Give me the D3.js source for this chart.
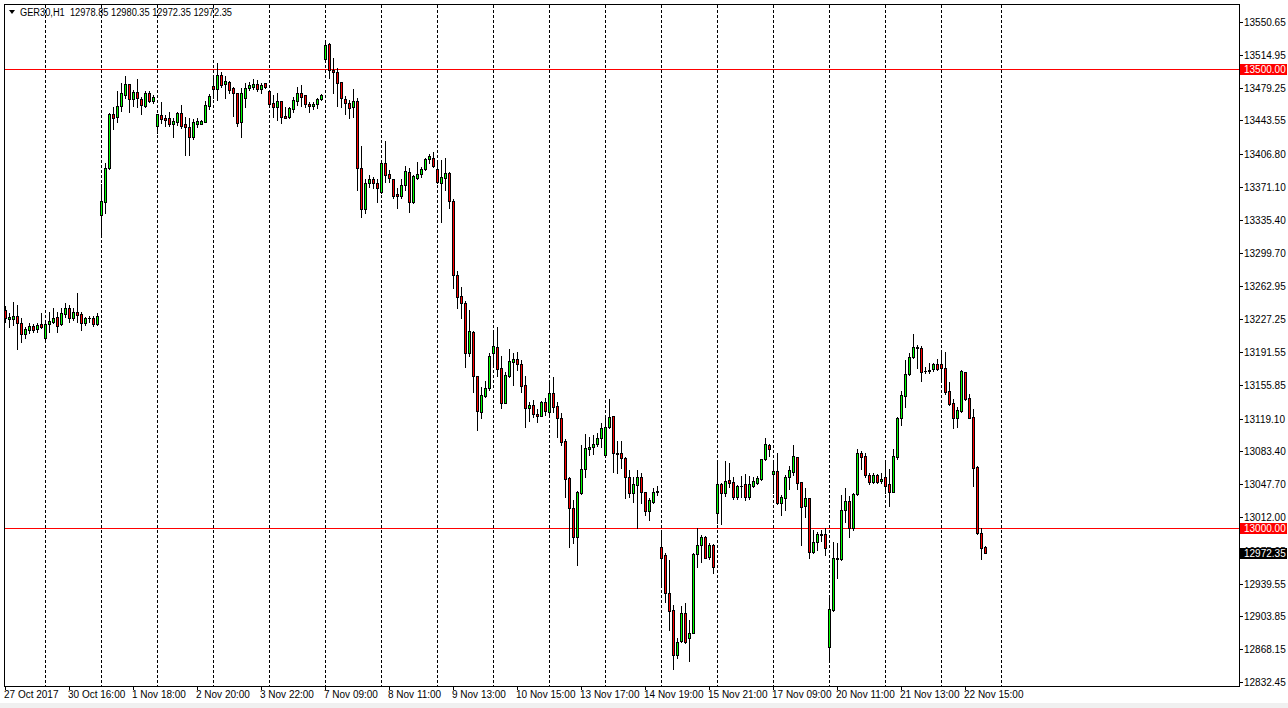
<!DOCTYPE html>
<html>
<head>
<meta charset="utf-8">
<script src="https://cdn.jsdelivr.net/npm/d3@7"></script>
<style>
  html, body { margin: 0; padding: 0; background: #f0f0f0; }
  svg { display: block; }
  text { font-family: "Liberation Sans", Arial, sans-serif; font-size: 10px; }
</style>
</head>
<body>
<script>
// ---------------- DATA ----------------
const symbol = "GER30,H1";
const lastQuote = ["12978.85", "12980.35", "12972.35", "12972.35"];

const openP = [
13237.2,13227.8,13227.8,13230.7,13222.8,13210.8,13215.5,13219.8,13216.2,13222.0,13206.4,13221.7,13224.5,13229.3,13221.7,13232.9,13239.1,13228.9,13234.7,13232.9,13223.4,13228.2,13228.2,13221.7,
13340.6,13355.0,13391.5,13450.5,13446.9,13459.6,13471.2,13482.8,13466.5,13474.1,13466.8,13459.6,13473.1,13465.0,13437.3,13449.4,13445.8,13445.8,13439.6,13441.5,13451.3,13439.3,13436.0,13425.8,13439.6,13439.6,13442.1,13459.6,13481.0,13477.7,
13493.0,13482.8,13485.0,13479.2,13473.1,13442.1,13467.6,13478.5,13480.3,13482.8,13477.4,13484.0,13475.5,13462.2,13458.5,13464.7,13448.4,13447.6,13456.0,13464.7,13473.1,13471.2,13461.4,13459.6,13461.1,13466.8,
13510.4,13526.4,13498.4,13495.9,13485.0,13466.8,13462.2,13458.5,13464.7,13392.1,13347.1,13375.1,13379.4,13375.1,13365.2,13396.8,13384.9,13379.4,13363.5,13360.9,13372.9,13387.1,13354.4,13381.2,13384.9,13390.3,13401.2,13402.9,13390.3,13375.1,13380.5,13386.6,13355.8,
13275.3,13252.5,13244.5,13190.1,13213.6,13165.4,13125.9,13144.0,13152.0,13190.8,13196.6,13173.8,13136.4,13165.7,13181.0,13183.6,13178.1,13155.6,13130.3,13133.9,13123.7,13122.2,13136.8,13125.9,13146.6,13132.8,13119.4,
13095.0,13054.1,13021.4,12989.9,13038.4,13063.9,13086.3,13087.8,13091.1,13097.6,13079.1,13110.2,13121.9,13081.9,13081.9,13076.5,13055.8,13038.4,13046.8,13055.2,13038.8,13018.8,13028.6,13038.8,
12979.6,12970.6,12929.6,12910.8,12861.8,12877.4,12907.9,12880.0,12886.1,12971.4,12981.5,12990.5,12968.1,12981.5,
13016.6,13047.6,13038.4,13052.2,13049.7,13033.3,13046.0,13047.9,13033.3,13046.0,13049.3,13053.0,13074.8,13090.3,
13058.4,13062.0,13026.9,13032.3,13055.2,13061.3,13076.9,13050.4,13023.9,13032.3,12974.2,12985.1,12992.9,12993.5,
12870.8,12910.8,12965.9,12965.9,13019.6,13029.7,12999.7,13037.0,13081.3,13078.3,13057.7,13050.4,13057.7,13051.5,
13055.2,13047.9,13039.5,13077.6,13119.4,13144.0,13167.6,13185.8,13195.6,13195.6,13171.2,13170.8,13172.7,13178.5,
13178.5,13173.8,13149.4,13135.7,13120.0,13127.6,13169.4,13141.1,13120.5,13066.7,12994.2,12978.85
];

const highP = [
13241.6,13234.0,13246.3,13242.7,13228.5,13219.1,13223.4,13221.7,13223.4,13233.6,13223.1,13235.4,13239.1,13235.4,13239.1,13244.5,13242.7,13239.1,13255.4,13235.4,13230.0,13230.7,13230.2,13233.6,
13374.0,13396.9,13451.6,13458.5,13475.5,13484.0,13491.9,13483.7,13476.6,13488.3,13469.3,13475.5,13475.5,13471.2,13451.0,13463.3,13449.4,13452.3,13445.8,13453.0,13460.3,13447.6,13446.2,13444.8,13445.8,13444.0,13464.7,13471.9,13491.9,13505.7,
13496.6,13492.2,13486.4,13480.3,13473.4,13478.5,13484.0,13485.7,13488.6,13487.5,13484.0,13484.7,13476.0,13471.2,13473.1,13465.0,13458.5,13458.5,13469.3,13480.3,13482.1,13471.5,13463.9,13463.9,13468.3,13471.9,
13529.9,13527.5,13511.1,13500.2,13485.7,13470.1,13465.7,13477.7,13468.3,13415.7,13379.8,13384.1,13382.3,13379.8,13398.5,13421.1,13389.6,13379.8,13370.0,13379.8,13393.6,13392.1,13384.1,13398.5,13393.2,13402.9,13406.6,13409.4,13400.5,13400.5,13402.3,13387.0,13358.0,
13279.7,13262.6,13247.0,13237.2,13214.4,13165.5,13153.8,13160.0,13190.8,13211.9,13219.1,13187.2,13170.1,13194.5,13190.1,13191.2,13182.8,13165.4,13136.8,13139.3,13129.5,13138.2,13141.8,13158.6,13164.0,13137.4,13124.8,
13096.5,13055.8,13030.5,13040.3,13090.3,13102.3,13098.7,13101.2,13103.1,13113.9,13120.5,13140.1,13122.0,13094.3,13095.1,13077.6,13063.1,13055.8,13063.1,13059.5,13039.5,13032.3,13043.2,13045.7,
12996.0,12973.1,12965.2,12916.2,12880.0,12915.1,12918.7,12899.9,12972.5,12999.7,12992.4,12991.3,12983.3,12982.6,
13074.0,13048.6,13072.9,13071.1,13055.2,13046.8,13056.6,13058.8,13056.6,13055.8,13056.6,13075.1,13097.6,13091.4,
13072.1,13081.3,13035.9,13057.7,13067.5,13090.3,13077.0,13050.5,13043.2,13032.4,12997.8,12996.0,12997.8,12999.7,
12923.5,12985.1,12984.0,13035.9,13043.2,13034.8,13038.4,13085.6,13084.1,13081.9,13060.2,13059.5,13058.4,13060.2,
13074.0,13063.9,13085.6,13121.1,13149.4,13182.8,13190.8,13211.1,13199.1,13198.1,13174.9,13179.9,13179.9,13183.6,
13193.7,13191.9,13159.2,13140.1,13131.3,13171.9,13170.1,13145.8,13129.2,13067.5,12999.7,12980.35
];

const lowP = [
13224.2,13219.1,13220.9,13194.5,13202.7,13206.4,13212.5,13213.6,13213.6,13217.3,13204.6,13213.6,13222.8,13213.6,13220.9,13230.0,13224.5,13226.3,13224.5,13215.5,13220.9,13224.5,13219.8,13220.9,
13317.8,13342.4,13390.7,13434.2,13441.5,13453.8,13467.6,13453.0,13459.6,13458.5,13450.5,13458.5,13463.9,13462.8,13430.2,13440.4,13437.4,13437.4,13425.5,13438.5,13435.6,13405.8,13405.8,13423.3,13436.7,13439.3,13441.5,13455.9,13467.6,13465.7,
13480.3,13468.3,13473.1,13448.4,13437.8,13425.8,13458.5,13476.6,13477.7,13475.5,13473.1,13479.2,13460.3,13447.2,13444.0,13440.4,13445.8,13445.8,13453.0,13460.3,13459.6,13458.5,13453.0,13455.9,13457.4,13465.7,
13507.4,13489.4,13473.1,13459.6,13458.5,13450.2,13445.8,13447.6,13367.8,13338.8,13342.5,13371.6,13369.7,13354.4,13364.1,13376.8,13376.8,13358.8,13347.9,13358.8,13367.8,13344.2,13353.3,13379.8,13382.3,13389.6,13396.8,13393.1,13375.1,13333.4,13367.8,13347.9,13260.8,
13239.7,13228.8,13175.5,13187.5,13148.3,13106.6,13120.0,13142.2,13150.2,13175.5,13165.7,13130.9,13135.7,13164.6,13155.6,13171.9,13148.3,13110.2,13116.4,13121.1,13115.0,13121.9,13123.0,13123.0,13126.6,13099.4,13090.0,
13034.1,12979.0,12984.0,12959.7,13037.0,13055.8,13079.4,13080.5,13089.2,13088.5,13077.7,13108.5,13061.4,13060.3,13065.1,13032.3,13033.3,13028.6,12999.7,13026.9,13014.1,13008.7,13027.5,13035.9,
12938.0,12919.8,12889.0,12846.3,12858.2,12876.3,12874.6,12855.6,12885.4,12957.9,12963.3,12967.0,12965.9,12951.4,
13005.1,13004.4,13034.8,13044.9,13031.2,13031.2,13034.1,13030.5,13031.2,13044.9,13047.9,13052.2,13074.0,13078.3,
13038.4,13026.1,13014.1,13019.6,13042.1,13057.7,13042.1,12981.5,13012.3,12967.0,12972.5,12976.1,12986.2,12970.6,
12855.8,12909.7,12945.3,12965.2,13006.9,12990.5,12997.8,13035.9,13063.9,13055.8,13047.9,13049.0,13048.6,13048.6,
13038.4,13023.9,13038.8,13074.8,13112.1,13131.3,13166.5,13184.7,13173.8,13160.3,13169.0,13169.0,13171.2,13171.9,
13161.8,13145.8,13133.9,13109.3,13110.2,13126.6,13139.3,13119.4,13045.7,12993.5,12965.9,12972.35
];

const closeP = [
13228.2,13230.0,13230.7,13222.8,13210.8,13216.2,13219.8,13215.5,13220.9,13218.4,13221.7,13225.3,13228.2,13220.1,13233.6,13239.1,13228.9,13234.7,13232.1,13223.4,13228.2,13228.3,13221.7,13230.7,
13355.8,13391.5,13450.5,13445.8,13459.6,13473.1,13482.8,13466.5,13474.1,13467.6,13460.3,13473.1,13465.0,13468.7,13450.5,13444.8,13444.0,13439.3,13442.9,13451.3,13437.4,13436.0,13425.8,13442.1,13442.9,13442.9,13460.3,13470.1,13477.4,13493.0,
13482.1,13486.4,13476.6,13473.1,13440.7,13473.1,13478.5,13482.1,13482.8,13477.4,13482.1,13480.3,13461.4,13458.5,13464.7,13447.6,13446.6,13456.8,13465.7,13473.1,13469.3,13461.1,13459.6,13461.4,13466.8,13471.2,
13525.6,13498.4,13495.9,13484.6,13467.6,13462.2,13456.8,13464.7,13392.1,13347.1,13375.1,13379.4,13375.1,13370.3,13396.8,13384.1,13380.5,13361.6,13360.9,13373.6,13388.9,13354.4,13383.0,13384.9,13390.3,13401.5,13404.8,13394.2,13376.2,13382.3,13386.6,13355.8,13275.3,
13251.7,13244.5,13190.1,13214.4,13165.7,13127.3,13144.7,13152.0,13187.2,13198.1,13172.7,13136.4,13166.5,13181.7,13183.9,13178.1,13154.8,13130.3,13133.9,13123.7,13122.2,13136.8,13127.3,13146.6,13132.0,13119.4,13093.9,
13053.0,13021.4,12989.9,13038.8,13063.9,13086.7,13087.8,13091.1,13098.3,13108.5,13110.2,13120.5,13081.3,13080.5,13075.8,13055.8,13038.4,13047.6,13055.2,13038.8,13018.8,13030.5,13038.8,13040.3,
12967.0,12928.9,12910.0,12861.8,12876.3,12907.9,12876.3,12886.1,12971.4,12981.5,12990.5,12967.7,12981.5,12957.9,
13047.6,13038.4,13051.5,13049.3,13033.3,13045.7,13046.2,13033.3,13047.9,13051.1,13054.1,13074.8,13091.4,13085.6,
13062.0,13026.9,13033.4,13055.2,13063.1,13078.3,13049.3,13023.2,13032.3,12973.6,12985.1,12993.5,12993.3,12977.9,
12911.5,12967.7,12967.7,13019.6,13029.7,12999.7,13037.0,13081.3,13077.6,13057.7,13049.7,13057.7,13050.4,13053.0,
13046.0,13039.5,13078.3,13119.4,13144.7,13167.6,13185.8,13196.6,13196.6,13170.1,13171.4,13171.9,13178.5,13173.0,
13173.8,13148.3,13134.9,13120.0,13128.4,13170.8,13140.4,13120.0,13065.6,12994.2,12978.6,12972.35
];

const priceTicks = ["13550.65","13514.95","13479.25","13443.55","13406.80","13371.10","13335.40","13299.70","13262.95","13227.25","13191.55","13155.85","13119.10","13083.40","13047.70","13012.00","12975.25","12939.55","12903.85","12868.15","12832.45"];

const timeLabels = ["27 Oct 2017","30 Oct 16:00","1 Nov 18:00","2 Nov 20:00","3 Nov 22:00","7 Nov 09:00","8 Nov 11:00","9 Nov 13:00","10 Nov 15:00","13 Nov 17:00","14 Nov 19:00","15 Nov 21:00","17 Nov 09:00","20 Nov 11:00","21 Nov 13:00","22 Nov 15:00"];
const timeLabelBars = [0,16,32,48,64,80,96,112,128,144,160,176,192,208,224,240];

const gridBars = [10,24,38,52,66,80,94,108,122,136,150,164,178,192,206,220,234,249];

const levelLines = [13500.00, 13000.00];
const bidPrice = 12972.35;

// ---------------- LAYOUT ----------------
const W = 1288, H = 708;
const frame = { left: 4, top: 4, right: 1239, bottom: 686 };
const bullColor = "#00ff00", bearColor = "#ff0000";

const svg = d3.select("body").append("svg")
  .attr("width", W).attr("height", H);

svg.append("rect").attr("x", 0).attr("y", 0).attr("width", W).attr("height", H).attr("fill", "#ffffff");
svg.append("rect").attr("x", 0).attr("y", 703).attr("width", W).attr("height", 5).attr("fill", "#f0f0f0");

const n = openP.length;
const x = d3.scaleLinear().domain([0, n - 1]).range([5, 5 + 4 * (n - 1)]);
const y = d3.scaleLinear().domain([12832.45, 13550.65]).range([682, 22]);

const g = svg.append("g").attr("shape-rendering", "crispEdges");

// frame
g.append("rect")
  .attr("x", frame.left + 0.5).attr("y", frame.top + 0.5)
  .attr("width", frame.right - frame.left).attr("height", frame.bottom - frame.top)
  .attr("fill", "none").attr("stroke", "#000");

// vertical dotted grid
g.selectAll("line.grid").data(gridBars).join("line")
  .attr("class", "grid")
  .attr("x1", d => Math.round(x(d)) + 0.5).attr("x2", d => Math.round(x(d)) + 0.5)
  .attr("y1", frame.top + 1).attr("y2", frame.bottom)
  .attr("stroke", "#000").attr("stroke-dasharray", "3,2");

// level lines
g.selectAll("line.level").data(levelLines).join("line")
  .attr("class", "level")
  .attr("x1", frame.left + 1).attr("x2", frame.right)
  .attr("y1", d => Math.round(y(d)) + 0.5).attr("y2", d => Math.round(y(d)) + 0.5)
  .attr("stroke", "#ff0000");

// candles
const idx = d3.range(n);
const cg = g.append("g");
idx.forEach(i => {
  const cx = Math.round(x(i));
  const o = openP[i], c = closeP[i], h = highP[i], l = lowP[i];
  const yh = Math.round(y(h)), yl = Math.round(y(l));
  cg.append("line")
    .attr("x1", cx + 0.5).attr("x2", cx + 0.5)
    .attr("y1", yh).attr("y2", yl + 1)
    .attr("stroke", "#000");
  const top = Math.round(y(Math.max(o, c))), bot = Math.round(y(Math.min(o, c)));
  if (bot - top < 1) {
    cg.append("line")
      .attr("x1", cx - 1).attr("x2", cx + 2)
      .attr("y1", top + 0.5).attr("y2", top + 0.5)
      .attr("stroke", "#000");
  } else {
    cg.append("rect")
      .attr("x", cx - 0.5).attr("y", top + 0.5)
      .attr("width", 2).attr("height", bot - top)
      .attr("fill", c >= o ? bullColor : bearColor)
      .attr("stroke", "#000");
  }
});

// price axis
const ax = svg.append("g");
ax.selectAll("line.pt").data(priceTicks).join("line")
  .attr("class", "pt").attr("shape-rendering", "crispEdges")
  .attr("x1", frame.right + 1).attr("x2", frame.right + 4)
  .attr("y1", d => Math.round(y(+d)) + 0.5).attr("y2", d => Math.round(y(+d)) + 0.5)
  .attr("stroke", "#000");
ax.selectAll("text.pt").data(priceTicks).join("text")
  .attr("class", "pt")
  .attr("x", frame.right + 5).attr("y", d => Math.round(y(+d)) + 4)
  .attr("fill", "#000").text(d => d);

// level labels
levelLines.forEach(v => {
  const yy = Math.round(y(v));
  ax.append("rect").attr("x", frame.right + 1).attr("y", yy - 5).attr("width", 47).attr("height", 11)
    .attr("fill", "#ff0000").attr("shape-rendering", "crispEdges");
  ax.append("text").attr("x", frame.right + 5).attr("y", yy + 4).attr("fill", "#fff").text(v.toFixed(2));
});
{
  const yy = Math.round(y(bidPrice));
  ax.append("rect").attr("x", frame.right + 1).attr("y", yy - 5).attr("width", 47).attr("height", 11)
    .attr("fill", "#000").attr("shape-rendering", "crispEdges");
  ax.append("text").attr("x", frame.right + 5).attr("y", yy + 4).attr("fill", "#fff").text(bidPrice.toFixed(2));
}

// time axis
const tx = svg.append("g");
tx.selectAll("line.tt").data(timeLabelBars).join("line")
  .attr("class", "tt").attr("shape-rendering", "crispEdges")
  .attr("x1", d => Math.round(x(d)) + 0.5).attr("x2", d => Math.round(x(d)) + 0.5)
  .attr("y1", frame.bottom + 1).attr("y2", frame.bottom + 4)
  .attr("stroke", "#000");
tx.selectAll("text.tt").data(timeLabels).join("text")
  .attr("class", "tt")
  .attr("x", (d, i) => Math.round(x(timeLabelBars[i])) - 1)
  .attr("y", 698)
  .attr("fill", "#000").text(d => d);

// title
svg.append("path").attr("d", "M9,10 L15,10 L12,14 Z").attr("fill", "#000");
svg.append("text").attr("x", 20).attr("y", 16).attr("fill", "#000")
  .style("white-space", "pre")
  .attr("textLength", 212).attr("lengthAdjust", "spacingAndGlyphs")
  .text(symbol + "  " + lastQuote.join(" "));
</script>
</body>
</html>
